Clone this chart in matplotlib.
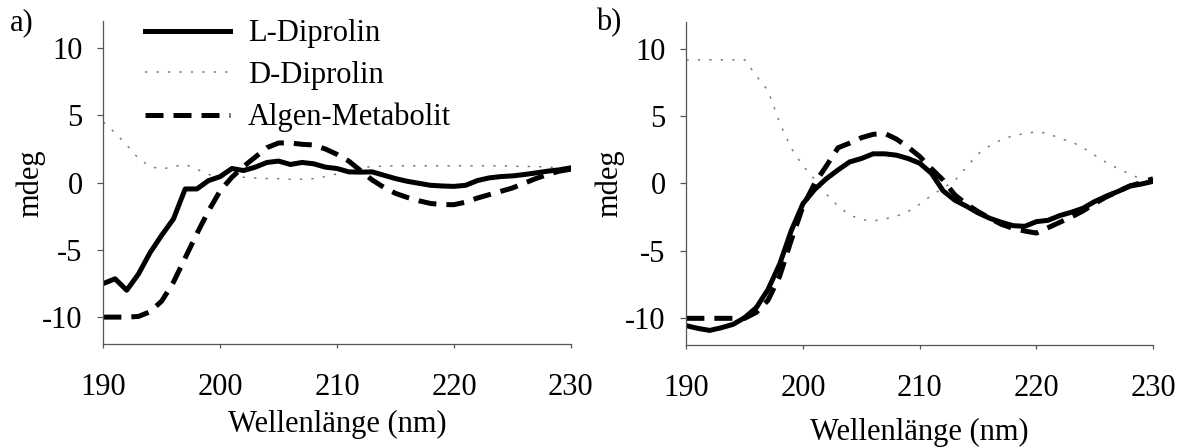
import matplotlib
matplotlib.use("Agg")
import matplotlib.pyplot as plt
import numpy as np

plt.rcParams["font.family"] = ["Liberation Serif", "DejaVu Serif"]
plt.rcParams["axes.unicode_minus"] = False

# ---------------------------------------------------------------------------
# Daten (CD-Spektren)
# ---------------------------------------------------------------------------
wellenlaenge = np.arange(190, 231)

# a)
a_l_diprolin = [-7.5, -7.15, -8.0, -6.8, -5.2, -3.9, -2.7, -0.47, -0.47, 0.15,
                0.45, 1.05, 0.9, 1.15, 1.5, 1.6, 1.35, 1.5, 1.4, 1.15,
                1.05, 0.8, 0.78, 0.8, 0.55, 0.3, 0.1, -0.05, -0.2, -0.25,
                -0.28, -0.2, 0.15, 0.35, 0.45, 0.5, 0.6, 0.72, 0.85, 0.95,
                1.1]
a_d_diprolin = [4.5, 3.7, 2.8, 1.8, 1.2, 1.0, 1.2, 1.35, 1.0, 0.6,
                0.45, 0.5, 0.4, 0.35, 0.3, 0.3, 0.25, 0.25, 0.3, 0.45,
                0.65, 0.9, 1.1, 1.2, 1.22, 1.25, 1.25, 1.25, 1.25, 1.25,
                1.25, 1.25, 1.25, 1.25, 1.25, 1.22, 1.2, 1.2, 1.15, 1.1,
                1.0]
a_algen = [-10.0, -10.0, -10.0, -9.95, -9.6, -8.8, -7.4, -5.6, -3.8, -2.1,
           -0.6, 0.4, 1.2, 1.9, 2.6, 2.95, 2.95, 2.85, 2.8, 2.5,
           2.1, 1.6, 0.9, 0.2, -0.35, -0.8, -1.1, -1.35, -1.55, -1.63,
           -1.64, -1.45, -1.15, -0.9, -0.65, -0.4, -0.05, 0.3, 0.6, 0.85,
           1.0]

# b)
b_l_diprolin = [-10.6, -10.8, -10.95, -10.75, -10.5, -10.0, -9.25, -7.9, -6.0, -3.5,
                -1.5, -0.45, 0.35, 1.0, 1.6, 1.85, 2.2, 2.2, 2.1, 1.85,
                1.5, 0.75, -0.55, -1.25, -1.7, -2.2, -2.6, -2.9, -3.15, -3.2,
                -2.85, -2.75, -2.4, -2.15, -1.85, -1.35, -0.95, -0.6, -0.2, -0.05,
                0.15]
b_d_diprolin = [9.2, 9.2, 9.2, 9.2, 9.2, 9.2, 8.0, 6.9, 4.5, 2.6,
                1.3, 0.3, -0.8, -1.7, -2.35, -2.7, -2.8, -2.65, -2.45, -2.1,
                -1.55, -0.9, -0.35, 0.2, 1.2, 2.2, 2.8, 3.25, 3.55, 3.7,
                3.85, 3.72, 3.35, 3.1, 2.65, 2.1, 1.55, 1.1, 0.7, 0.3,
                0.02]
b_algen = [-10.05, -10.05, -10.05, -10.05, -10.05, -10.05, -9.6, -8.7, -6.9, -4.2,
           -1.7, 0.0, 1.3, 2.65, 3.0, 3.4, 3.65, 3.72, 3.3, 2.7,
           2.0, 1.1, 0.25, -0.85, -1.55, -2.1, -2.6, -3.05, -3.35, -3.55,
           -3.7, -3.3, -2.9, -2.5, -2.05, -1.5, -1.0, -0.6, -0.2, 0.05,
           0.35]

labels = ["L-Diprolin", "D-Diprolin", "Algen-Metabolit"]

FS = 22
SPINE = "#555555"


def style_axis(ax):
    ax.set_xlim(190, 230)
    ax.set_ylim(-12, 12)
    ax.set_xticks([190, 200, 210, 220, 230])
    ax.set_yticks([-10, -5, 0, 5, 10])
    for s in ["top", "right"]:
        ax.spines[s].set_visible(False)
    for s in ["left", "bottom"]:
        ax.spines[s].set_color(SPINE)
        ax.spines[s].set_linewidth(0.9)
    ax.tick_params(axis="x", direction="out", length=3, width=0.9,
                   color=SPINE, pad=18, labelsize=FS)
    ax.tick_params(axis="y", direction="out", length=4, width=0.9,
                   color=SPINE, pad=11, labelsize=FS)
    ax.set_xlabel("Wellenlänge (nm)", fontsize=FS)
    ax.set_ylabel("mdeg", fontsize=FS)


def draw(ax, l, d, alg):
    ax.plot(wellenlaenge, d, color="#7a7a7a", lw=1.1,
            linestyle=(0, (1.5, 6.0)), label=labels[1])
    ax.plot(wellenlaenge, l, color="black", lw=3.6, label=labels[0])
    ax.plot(wellenlaenge, alg, color="black", lw=3.6,
            linestyle=(0, (3.6, 2.0)), label=labels[2])


fig = plt.figure(figsize=(11.84, 4.48), dpi=100)
ax_a = fig.add_axes([0.0873, 0.2321, 0.3948, 0.7205])
ax_b = fig.add_axes([0.5797, 0.2310, 0.3942, 0.7194])

draw(ax_a, a_l_diprolin, a_d_diprolin, a_algen)
draw(ax_b, b_l_diprolin, b_d_diprolin, b_algen)
style_axis(ax_a)
style_axis(ax_b)

ax_a.xaxis.set_label_coords(0.5, -0.203)
ax_b.xaxis.set_label_coords(0.5, -0.229)
ax_a.yaxis.set_label_coords(-0.124, 0.497)
ax_b.yaxis.set_label_coords(-0.132, 0.5)

handles, labs = ax_a.get_legend_handles_labels()
order = [1, 0, 2]
ax_a.legend([handles[i] for i in order], [labs[i] for i in order],
            loc="upper left", bbox_to_anchor=(0.089, 1.006),
            frameon=False, fontsize=FS, borderpad=0, borderaxespad=0,
            handlelength=2.78, handletextpad=0.6, labelspacing=0.42)

fig.text(10 / 1184, 1 - 8 / 448, "a)", fontsize=22, va="top", ha="left")
fig.text(596 / 1184, 1 - 8 / 448, "b)", fontsize=22, va="top", ha="left")

fig.savefig("out.png", dpi=100)
